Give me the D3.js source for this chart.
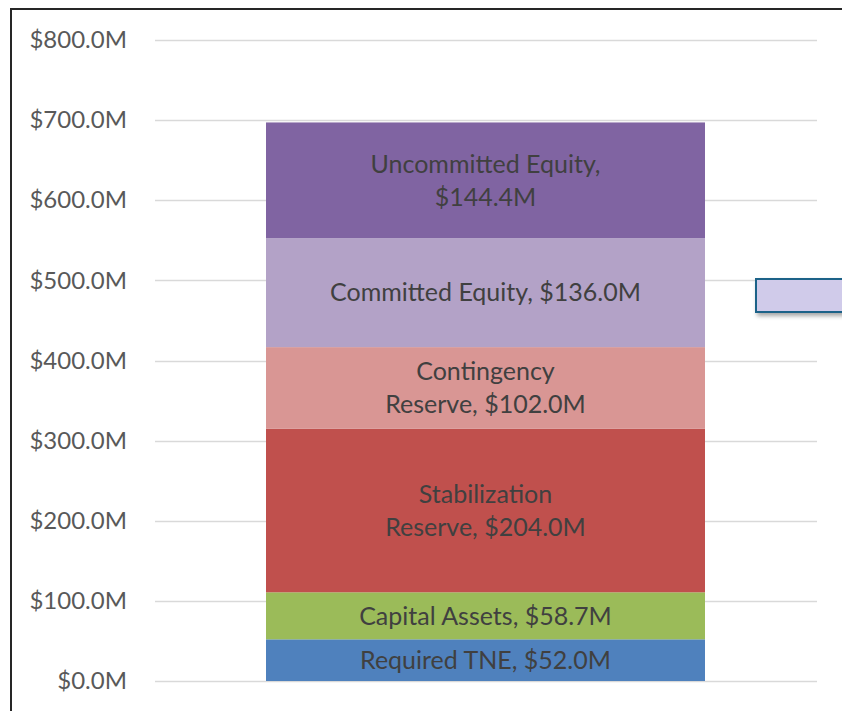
<!DOCTYPE html>
<html lang="en">
<head>
  <meta charset="UTF-8" />
  <title>Capital Stack</title>
  <script src="https://d3js.org/d3.v7.min.js"></script>
  <style>
    body { margin: 0; background: #fff; }
    svg text { font-family: "Lato", "Open Sans", sans-serif; }
  </style>
</head>
<body>
  <svg id="chart" width="842" height="711"></svg>
  <script>
    // data (in $M), bottom to top
    const categories = ["Required TNE", "Capital Assets", "Stabilization Reserve", "Contingency Reserve", "Committed Equity", "Uncommitted Equity"];
    const values = [52.0, 58.7, 204.0, 102.0, 136.0, 144.4];
    const labelLines = [
      ["Required TNE, $52.0M"],
      ["Capital Assets, $58.7M"],
      ["Stabilization", "Reserve, $204.0M"],
      ["Contingency", "Reserve, $102.0M"],
      ["Committed Equity, $136.0M"],
      ["Uncommitted Equity,", "$144.4M"]
    ];
    const colors = ["#4f81bd", "#9bbb59", "#c0504d", "#d99694", "#b3a2c7", "#8064a2"];
    const yTicks = [0, 100, 200, 300, 400, 500, 600, 700, 800];

    const svg = d3.select("#chart");

    // outer frame (top/left border)
    svg.append("path")
        .attr("d", "M11,711 V9 H842")
        .attr("fill", "none")
        .attr("stroke", "#262626")
        .attr("stroke-width", 2);

    const y = d3.scaleLinear().domain([0, 800]).range([681, 40]);
    // bar position as in the picture
    const barX = 266, barW = 439;

    // gridlines
    svg.append("g")
        .selectAll("line")
        .data(yTicks)
        .enter().append("line")
          .attr("x1", 155).attr("x2", 817)
          .attr("y1", d => Math.round(y(d)) + 0.5)
          .attr("y2", d => Math.round(y(d)) + 0.5)
          .attr("stroke", "#d9d9d9")
          .attr("stroke-width", 1.5);

    // y axis labels
    const yAxis = svg.append("g")
        .attr("transform", "translate(127,0)")
        .call(d3.axisLeft(y).tickValues(yTicks).tickSize(0).tickPadding(0)
          .tickFormat(d => "$" + d3.format(".1f")(d) + "M"));
    yAxis.select(".domain").remove();
    yAxis.selectAll("text")
        .attr("fill", "#595959")
        .style("font-size", "24px")
        .style("font-family", "Lato, 'Open Sans', sans-serif");

    // stacked segments
    let acc = 0;
    const segs = values.map((v, i) => {
      const s = {name: categories[i], v: v, y0: acc, y1: acc + v, lines: labelLines[i], color: colors[i]};
      acc += v;
      return s;
    });

    svg.append("g")
        .selectAll("rect")
        .data(segs)
        .enter().append("rect")
          .attr("x", barX)
          .attr("width", barW)
          .attr("y", d => y(d.y1))
          .attr("height", d => y(d.y0) - y(d.y1))
          .attr("fill", d => d.color);

    // segment labels
    const lh = 33;
    segs.forEach(d => {
      const cy = y((d.y0 + d.y1) / 2);
      const n = d.lines.length;
      d.lines.forEach((t, j) => {
        svg.append("text")
            .attr("x", barX + barW / 2)
            .attr("y", cy + (j - (n - 1) / 2) * lh)
            .attr("dy", "0.35em")
            .attr("text-anchor", "middle")
            .attr("fill", "#404040")
            .style("font-size", "25px")
            .text(t);
      });
    });

    // stray shape on the right
    const defs = svg.append("defs");
    const f = defs.append("filter").attr("id", "shadow").attr("x", "-20%").attr("y", "-20%").attr("width", "150%").attr("height", "180%");
    f.append("feDropShadow").attr("dx", 2).attr("dy", 3).attr("stdDeviation", 2).attr("flood-color", "#000").attr("flood-opacity", 0.35);
    svg.append("rect")
        .attr("x", 756).attr("y", 279)
        .attr("width", 100).attr("height", 33)
        .attr("fill", "#d0cbea")
        .attr("stroke", "#1f6288")
        .attr("stroke-width", 2)
        .attr("filter", "url(#shadow)");
  </script>
</body>
</html>
